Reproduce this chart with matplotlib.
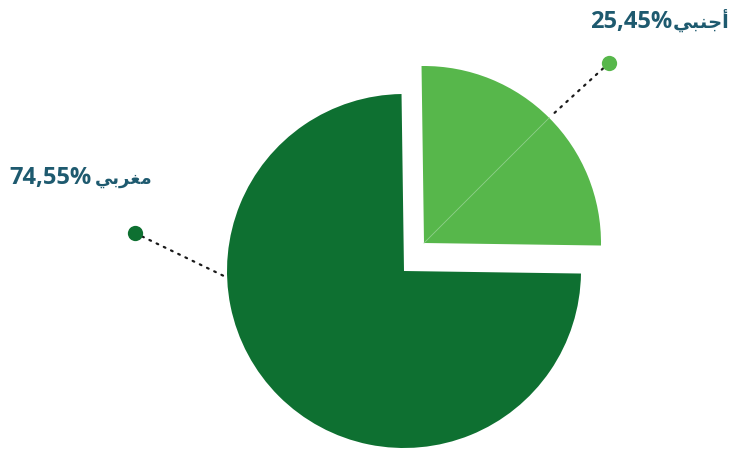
import matplotlib
matplotlib.use("Agg")
import matplotlib.pyplot as plt
import numpy as np

labels = ["أجنبي", "مغربي"]
# visual (pre-shaped, right-to-left reversed) forms for rendering
labels_visual = ["\uFEF2\uFE92\uFEE8\uFE9F\uFE83", "\uFEF2\uFE91\uFEAE\uFED0\uFEE3"]
values = [25.45, 74.55]
value_texts = ["25,45%", "74,55%"]
colors = ["#57B74B", "#0E7031"]
text_color = "#1E5A6F"

W, H = 730, 454
fig = plt.figure(figsize=(W / 100, H / 100), dpi=100)
ax = fig.add_axes([0, 0, 1, 1])

cx, cy = 404, H - 271
R = 177
wedges, _ = ax.pie(values, colors=colors, startangle=90.8, counterclock=False,
                   center=(cx, cy), radius=R,
                   wedgeprops=dict(linewidth=0, antialiased=True))
# shift the foreign slice up-right
lcx, lcy = cx + 20, cy + 28
wedges[0].set_center((lcx, lcy))

# faint seam in light slice
ang = np.deg2rad(90.8 - 360 * values[0] / 100 / 2)
ax.plot([lcx, lcx + R * np.cos(ang)], [lcy, lcy + R * np.sin(ang)],
        color="#8FD08A", lw=0.6, zorder=3)

# leader lines and dots
dots = [(609, H - 63), (135, H - 233)]
anchors = [(lcx + (R + 2) * np.cos(ang), lcy + (R + 2) * np.sin(ang)),
           (228, H - 278)]
for (dx, dy), (axp, ayp), c in zip(dots, anchors, colors):
    ax.plot([dx, axp], [dy, ayp], color="#1a1a1a", lw=1.6,
            linestyle=(0, (0.8, 2.8)), dash_capstyle="round", zorder=4)
    ax.plot([dx], [dy], "o", color=c, markersize=11, markeredgewidth=0, zorder=5)

fam = ["Open Sans", "DejaVu Sans"]
num_kw = dict(fontsize=17, fontweight="bold", color=text_color, family=fam, va="baseline")
ar_kw = dict(fontweight="bold", color=text_color, family=fam, va="baseline")
ax.text(672, H - 28, value_texts[0], ha="right", **num_kw)
ax.text(729, H - 28, labels_visual[0], ha="right", fontsize=14, **ar_kw)
ax.text(9, H - 184, value_texts[1], ha="left", **num_kw)
ax.text(153, H - 184, labels_visual[1], ha="right", fontsize=13, **ar_kw)

ax.set_xlim(0, W)
ax.set_ylim(0, H)
ax.set_aspect("auto")
ax.axis("off")
fig.savefig("out.png", dpi=100, facecolor="white")
